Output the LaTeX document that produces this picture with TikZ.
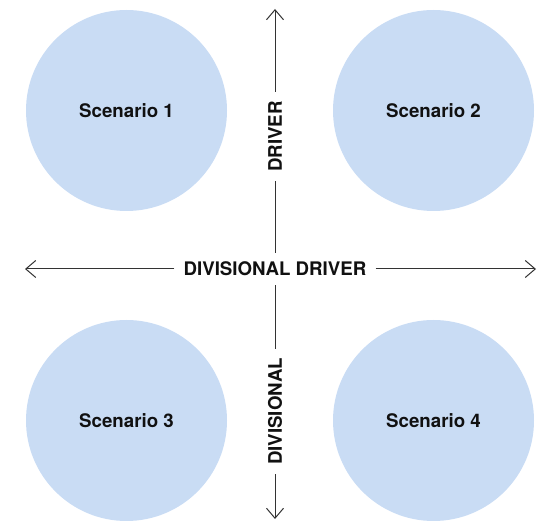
\documentclass[tikz,border=0pt]{standalone}
\usepackage{fontspec}
\setmainfont{TeX Gyre Heros}
\usetikzlibrary{arrows.meta,positioning}
\definecolor{bubble}{HTML}{C9DCF4}
\definecolor{axisgray}{HTML}{333333}
\definecolor{ink}{HTML}{111111}

\begin{document}
\begin{tikzpicture}[x=1pt,y=-1pt,
  scen/.style={circle,fill=bubble,minimum size=201pt,inner sep=0pt,text=ink,
    font=\fontsize{18.7}{22}\selectfont\bfseries},
  axlabel/.style={inner xsep=9pt,inner ysep=9pt,text=ink,
    font=\fontsize{18.7}{22}\selectfont\bfseries},
  axis/.style={draw=axisgray,line width=1pt},
  tip/.style={-{Straight Barb[length=10pt,width=17pt]}}]
  \useasboundingbox (0,0) rectangle (544,521);
  \node[scen] (s1) at (126.5,110.5) {Scenario 1};
  \node[scen] (s2) at (433.5,110.5) {Scenario 2};
  \node[scen] (s3) at (126.5,420.5) {Scenario 3};
  \node[scen] (s4) at (433.5,420.5) {Scenario 4};
  \node[axlabel] (dd) at (275,269) {DIVISIONAL DRIVER};
  \node[axlabel,rotate=90] (drv) at (275,136.5) {DRIVER};
  \node[axlabel,rotate=90] (div) at (275,411.5) {DIVISIONAL};
  \coordinate (top) at (275,9);
  \coordinate (bot) at (275,519);
  \coordinate (lft) at (25,269);
  \coordinate (rgt) at (536,269);
  \draw[axis,tip] (drv) -- (top);
  \draw[axis] (drv) -- (dd);
  \draw[axis] (dd) -- (div);
  \draw[axis,tip] (div) -- (bot);
  \draw[axis,tip] (dd) -- (lft);
  \draw[axis,tip] (dd) -- (rgt);
\end{tikzpicture}
\end{document}
